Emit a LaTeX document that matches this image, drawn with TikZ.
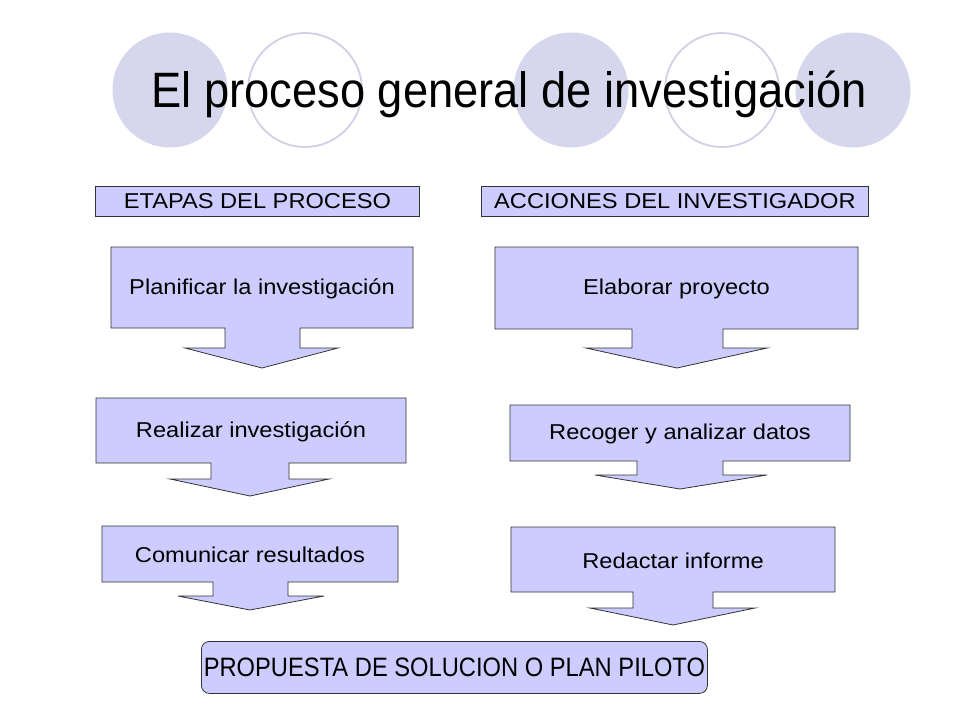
\documentclass[tikz,border=0pt]{standalone}
\usepackage{fontspec}
\setmainfont{Liberation Sans}
\definecolor{boxfill}{RGB}{204,204,255}
\definecolor{circfill}{RGB}{214,214,236}
\definecolor{circline}{RGB}{208,208,230}
\newcommand{\boxtxt}[1]{\fontsize{21.5}{24}\selectfont\scalebox{1.1}[1]{#1}}
\tikzset{
  x=1pt, y=-1pt,
  fullcirc/.style={fill=circfill, draw=none},
  opencirc/.style={draw=circline, line width=1.8pt, fill=none},
  shapeline/.style={draw=black!80, line width=0.8pt, fill=boxfill, line join=miter},
  lbl/.style={inner sep=0pt, text=black},
  hdr/.style={shapeline, rectangle, inner sep=0pt, anchor=north west},
}
\begin{document}
\begin{tikzpicture}
\useasboundingbox[fill=white] (0,0) rectangle (960,720);
% circles
\path[fullcirc] (170,90) circle[radius=57.5];
\path[opencirc] (305,90) circle[radius=57];
\path[fullcirc] (571,90) circle[radius=57.5];
\path[opencirc] (722,90) circle[radius=57];
\path[fullcirc] (853,90) circle[radius=57.5];
% title
\node[lbl, anchor=base] (title) at (509,107) {\fontsize{46}{50}\selectfont\scalebox{0.985}[1.08]{El proceso general de investigación}};
% headers
\node[hdr, minimum width=324pt, minimum height=30pt] (hA) at (95,186) {};
\node[lbl] (hAt) at (hA.center) {\boxtxt{ETAPAS DEL PROCESO}};
\node[hdr, minimum width=387pt, minimum height=30pt] (hB) at (481,186) {};
\node[lbl] (hBt) at (hB.center) {\boxtxt{ACCIONES DEL INVESTIGADOR}};
% callouts: name/x1/y1/x2/y2/shaft l/shaft r/head y/wing l/wing r/tip x/tip y/text
\foreach \nm/\xa/\ya/\xb/\yb/\sl/\sr/\hy/\wl/\wr/\tx/\ty/\txt in {
  planificar/111/247/413/328/225/300/348/185/338/262/368/{Planificar la investigación},
  realizar/96/398/406/463/211/289/479/170/329/250/496/{Realizar investigación},
  comunicar/102/526/398/582/213/288/596/178/324/250/610/{Comunicar resultados},
  elaborar/495/247/858/329/632/723/348/586/767/677/368/{Elaborar proyecto},
  recoger/510/405/850/461/637/723/475/595/767/680/489/{Recoger y analizar datos},
  redactar/511/527/835/592/633/713/608/590/755/673/625/{Redactar informe}}{
  \path[shapeline] (\xa,\ya) -- (\xb,\ya) -- (\xb,\yb) -- (\sr,\yb) -- (\sr,\hy) -- (\wr,\hy)
     -- (\tx,\ty) -- (\wl,\hy) -- (\sl,\hy) -- (\sl,\yb) -- (\xa,\yb) -- cycle;
  \node[lbl] (\nm) at ({(\xa+\xb)/2},{(\ya+\yb)/2+1}) {\boxtxt{\txt}};
}
% bottom
\node[shapeline, rectangle, rounded corners=8pt, anchor=north west, minimum width=506pt, minimum height=52pt, inner sep=0pt] (prop) at (201,641) {};
\node[lbl] (propt) at (prop.center) {\fontsize{24.2}{28}\selectfont\scalebox{0.98}[1.1]{PROPUESTA DE SOLUCION O PLAN PILOTO}};
\end{tikzpicture}
\end{document}
